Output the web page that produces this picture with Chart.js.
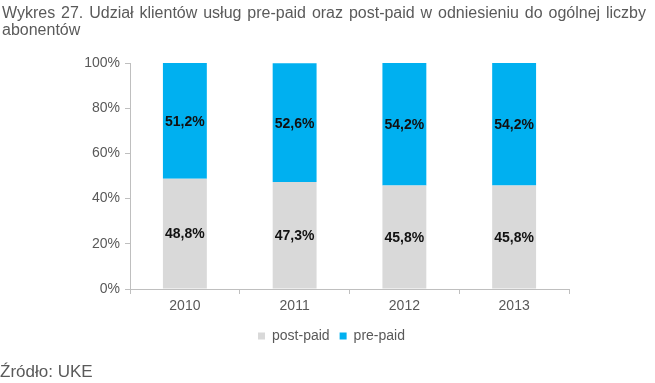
<!DOCTYPE html>
<html>
<head>
<meta charset="utf-8">
<script src="https://cdn.jsdelivr.net/npm/chart.js@4/dist/chart.umd.min.js"></script>
<style>
  html, body { margin: 0; padding: 0; background: #fff; }
  body { width: 655px; height: 383px; position: relative; overflow: hidden; font-family: "Liberation Sans", Arial, sans-serif; }
  #title { position: absolute; left: 2px; top: 5px; width: 644px; font-size: 16px; line-height: 16.5px; color: #5a5a5a; text-align: justify; text-align-last: left; }
  #source { position: absolute; left: 0px; top: 362px; font-size: 17px; color: #5a5a5a; }
  #wrap { position: absolute; left: 0; top: 0; width: 655px; height: 383px; }
</style>
</head>
<body>
<div id="wrap"><canvas id="c" width="655" height="383"></canvas></div>
<div id="title">Wykres 27. Udział klientów usług pre-paid oraz post-paid w odniesieniu do ogólnej liczby abonentów</div>
<div id="source">Źródło: UKE</div>
<script>
const categories = ['2010', '2011', '2012', '2013'];
const postPaid = [48.8, 47.3, 45.8, 45.8];
const prePaid = [51.2, 52.6, 54.2, 54.2];
const seriesNames = ['post-paid', 'pre-paid'];
const yTicks = [0, 20, 40, 60, 80, 100];

const fmt = v => v.toFixed(1).replace('.', ',') + '%';

const labelPlugin = {
  id: 'segLabels',
  afterDatasetsDraw(chart) {
    const ctx = chart.ctx;
    ctx.save();
    ctx.font = 'bold 14px "Liberation Sans", Arial, sans-serif';
    ctx.fillStyle = '#111';
    ctx.textAlign = 'center';
    ctx.textBaseline = 'middle';
    chart.data.datasets.forEach((ds, i) => {
      const meta = chart.getDatasetMeta(i);
      meta.data.forEach((el, j) => {
        ctx.fillText(fmt(ds.data[j]), el.x, (el.y + el.base) / 2 + 1);
      });
    });
    ctx.restore();
  }
};

// shift the legend so it is centred where the reference has it
const legendShift = {
  id: 'legendShift',
  afterLayout(chart) {
    if (chart.legend) {
      chart.legend.left += 47;
      chart.legend.right += 47;
    }
  }
};

Chart.defaults.font.family = '"Liberation Sans", Arial, sans-serif';
Chart.defaults.color = '#595959';

new Chart(document.getElementById('c'), {
  type: 'bar',
  data: {
    labels: categories,
    datasets: [
      { label: seriesNames[0], data: postPaid, backgroundColor: '#D9D9D9' },
      { label: seriesNames[1], data: prePaid, backgroundColor: '#00B0F0' }
    ]
  },
  options: {
    responsive: false,
    animation: false,
    devicePixelRatio: 1,
    layout: { padding: { left: 0, right: 86, top: 63, bottom: 30 } },
    datasets: { bar: { barPercentage: 0.40, categoryPercentage: 1.0 } },
    scales: {
      x: {
        stacked: true,
        grid: { offset: true, drawOnChartArea: false, drawTicks: true, tickLength: 5, color: '#BFBFBF' },
        border: { color: '#BFBFBF' },
        ticks: { font: { size: 14 }, color: '#595959', padding: 4 },
        afterFit(s) { s.height = 30; }
      },
      y: {
        stacked: true,
        min: 0, max: 100,
        afterBuildTicks(s) { s.ticks = yTicks.map(v => ({ value: v })); },
        grid: { drawOnChartArea: false, drawTicks: true, tickLength: 5, color: '#BFBFBF' },
        border: { color: '#BFBFBF' },
        ticks: { font: { size: 14 }, color: '#595959', padding: 5, callback: v => v + '%' },
        afterFit(s) { s.width = 130; }
      }
    },
    plugins: {
      legend: {
        position: 'bottom',
        labels: { boxWidth: 7, boxHeight: 7, font: { size: 14 }, color: '#595959', padding: 10 }
      },
      tooltip: { enabled: false }
    }
  },
  plugins: [labelPlugin, legendShift]
});
</script>
</body>
</html>
